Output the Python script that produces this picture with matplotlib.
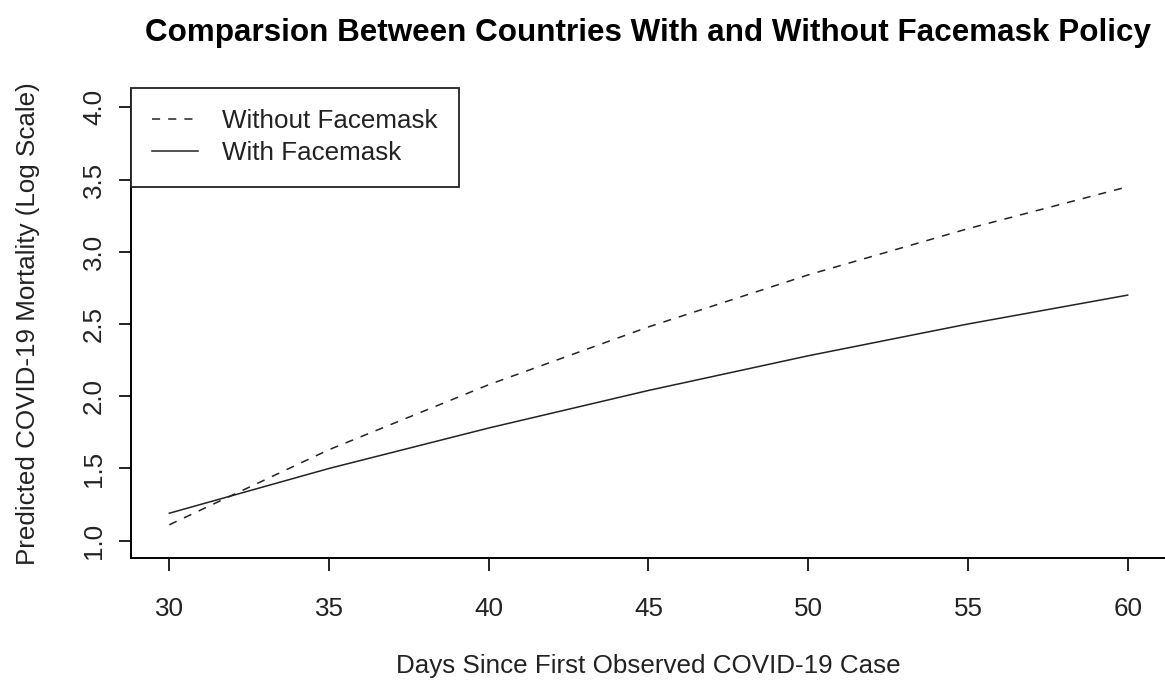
import matplotlib.pyplot as plt

plt.rcParams['font.family'] = ['Liberation Sans', 'DejaVu Sans']

days = [30, 35, 40, 45, 50, 55, 60]
without_mask = [1.11, 1.63, 2.08, 2.48, 2.84, 3.16, 3.45]
with_mask = [1.19, 1.50, 1.78, 2.04, 2.28, 2.50, 2.70]

x_ticks = [30, 35, 40, 45, 50, 55, 60]
y_ticks = [1.0, 1.5, 2.0, 2.5, 3.0, 3.5, 4.0]

fig = plt.figure(figsize=(11.65, 6.83), dpi=100)
ax = fig.add_axes([131 / 1165, 1 - 558 / 683, 1035 / 1165, 468 / 683])

line_col = '#222222'
ax.plot(days, without_mask, color=line_col, lw=1.1, dashes=(5.3, 5.3),
        label='Without Facemask')
ax.plot(days, with_mask, color=line_col, lw=1.1, label='With Facemask')

# R style: 4% padding around the data range
ax.set_xlim(30 - 0.04 * 30, 60 + 0.04 * 30)
ax.set_ylim(1.0 - 0.04 * 3, 4.0 + 0.04 * 3)

ax.set_xticks(x_ticks)
ax.set_xticklabels([str(t) for t in x_ticks])
ax.set_yticks(y_ticks)
ax.set_yticklabels(['%.1f' % t for t in y_ticks], rotation=90, va='center')

for s in ['top', 'right']:
    ax.spines[s].set_visible(False)
for s in ['left', 'bottom']:
    ax.spines[s].set_linewidth(1.4)

ax.tick_params(axis='both', direction='out', length=9, width=1.3,
               labelsize=18.7, colors='#111111', labelcolor='#222222')
ax.tick_params(axis='x', pad=19)
ax.tick_params(axis='y', pad=9)

ax.set_xlabel('Days Since First Observed COVID-19 Case', fontsize=18.7,
              color='#222222', labelpad=24)
ax.set_ylabel('Predicted COVID-19 Mortality (Log Scale)', fontsize=18.7,
              color='#222222', labelpad=30)
fig.text(648 / 1165, 1 - 33 / 683,
         'Comparsion Between Countries With and Without Facemask Policy',
         ha='center', va='center', fontsize=22.6, fontweight='bold')

leg = ax.legend(loc='upper left', bbox_to_anchor=(0, 1.004), borderaxespad=0,
                fontsize=18.7, frameon=True, fancybox=False, framealpha=1,
                edgecolor='#222222', handlelength=1.75, handletextpad=0.95,
                borderpad=0.82, labelspacing=0.3)
leg.get_frame().set_linewidth(1.3)
for t in leg.get_texts():
    t.set_color('#222222')

fig.savefig('out.png', dpi=100)
